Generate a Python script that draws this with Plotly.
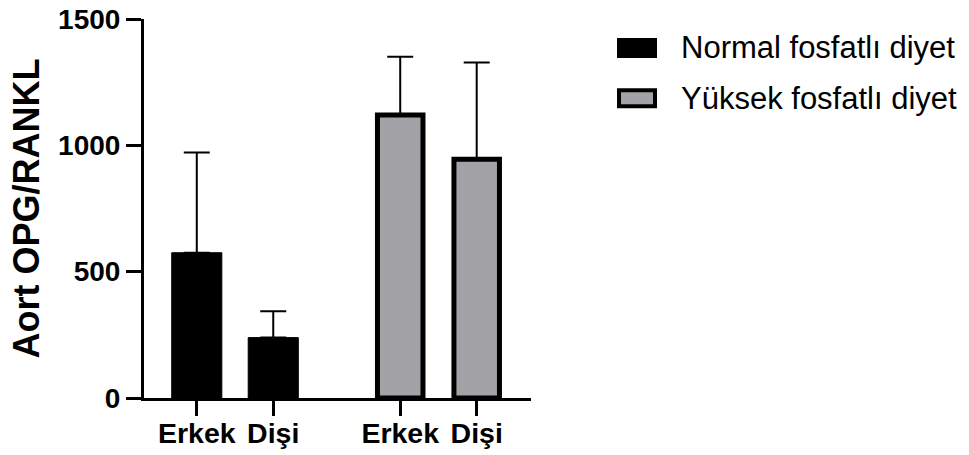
import plotly.graph_objects as go

# ---- data ----
categories = ["Erkek", "Dişi"]
normal_means = [575, 239]
normal_sd = [397, 104]
high_means = [1120, 945]
high_sd = [231, 383]
series_names = ["Normal fosfatlı diyet", "Yüksek fosfatlı diyet"]
y_ticks = [0, 500, 1000, 1500]

# ---- layout helpers ----
group_offsets = [0.0, 2.66]
pos_normal = [group_offsets[0] + i for i in range(len(categories))]
pos_high = [group_offsets[1] + i for i in range(len(categories))]

FONT = "Arial, Liberation Sans, Helvetica, sans-serif"
GRAY = "#a3a2a7"

fig = go.Figure()
fig.add_trace(go.Bar(
    x=pos_normal, y=normal_means, width=0.655, name=series_names[0],
    marker=dict(color="black", line=dict(color="black", width=1)),
    error_y=dict(type="data", symmetric=False, array=normal_sd,
                 arrayminus=[0] * len(normal_sd), color="black",
                 thickness=2, width=13),
    showlegend=False,
))
fig.add_trace(go.Bar(
    x=pos_high, y=high_means, width=0.595, name=series_names[1],
    marker=dict(color=GRAY, line=dict(color="black", width=5)),
    error_y=dict(type="data", symmetric=False, array=high_sd,
                 arrayminus=[0] * len(high_sd), color="black",
                 thickness=2, width=13),
    showlegend=False,
))

L, R, T, B = 144, 438, 19, 57
W, H = 969, 455
pw, ph = W - L - R, H - T - B

def px_x(p):
    return (p - L) / pw

def px_y(p):
    return (H - B - p) / ph

# manual legend
shapes = [
    dict(type="rect", xref="paper", yref="paper",
         x0=px_x(617), x1=px_x(657), y0=px_y(58), y1=px_y(38),
         fillcolor="black", line=dict(color="black", width=0)),
    dict(type="rect", xref="paper", yref="paper",
         x0=px_x(619), x1=px_x(655), y0=px_y(106.3), y1=px_y(90.3),
         fillcolor=GRAY, line=dict(color="black", width=4)),
]
annotations = [
    dict(text=series_names[0], xref="paper", yref="paper", x=px_x(679),
         y=px_y(47), xanchor="left", yanchor="middle", showarrow=False,
         font=dict(family=FONT, size=31, color="black")),
    dict(text=series_names[1], xref="paper", yref="paper", x=px_x(679),
         y=px_y(99), xanchor="left", yanchor="middle", showarrow=False,
         font=dict(family=FONT, size=31, color="black")),
]

fig.update_layout(
    width=W, height=H,
    margin=dict(l=L, r=R, t=T, b=B, pad=0, autoexpand=False),
    paper_bgcolor="white", plot_bgcolor="white",
    barmode="overlay",
    shapes=shapes, annotations=annotations,
    font=dict(family=FONT, color="black"),
)
fig.update_xaxes(
    range=[-0.69, 4.37], automargin=False,
    tickvals=pos_normal + pos_high,
    ticktext=categories + categories,
    ticks="outside", ticklen=15, tickwidth=3, tickcolor="black",
    ticklabelstandoff=-7,
    showline=True, linewidth=3, linecolor="black",
    showgrid=False, zeroline=False,
    tickfont=dict(family=FONT, size=28.5, color="black", weight="bold"),
)
fig.update_yaxes(
    range=[0, 1500], tickvals=y_ticks, automargin=False,
    ticks="outside", ticklen=15, tickwidth=3, tickcolor="black",
    showline=True, linewidth=3, linecolor="black",
    showgrid=False, zeroline=False,
    tickfont=dict(family=FONT, size=28, color="black", weight="bold"),
    title=dict(text="Aort OPG/RANKL", standoff=8,
               font=dict(family=FONT, size=36, color="black", weight="bold")),
)

fig.write_html(
    "out.html",
    config={"displayModeBar": False},
    post_script="document.body.style.margin='0';document.body.style.overflow='hidden';",
)
